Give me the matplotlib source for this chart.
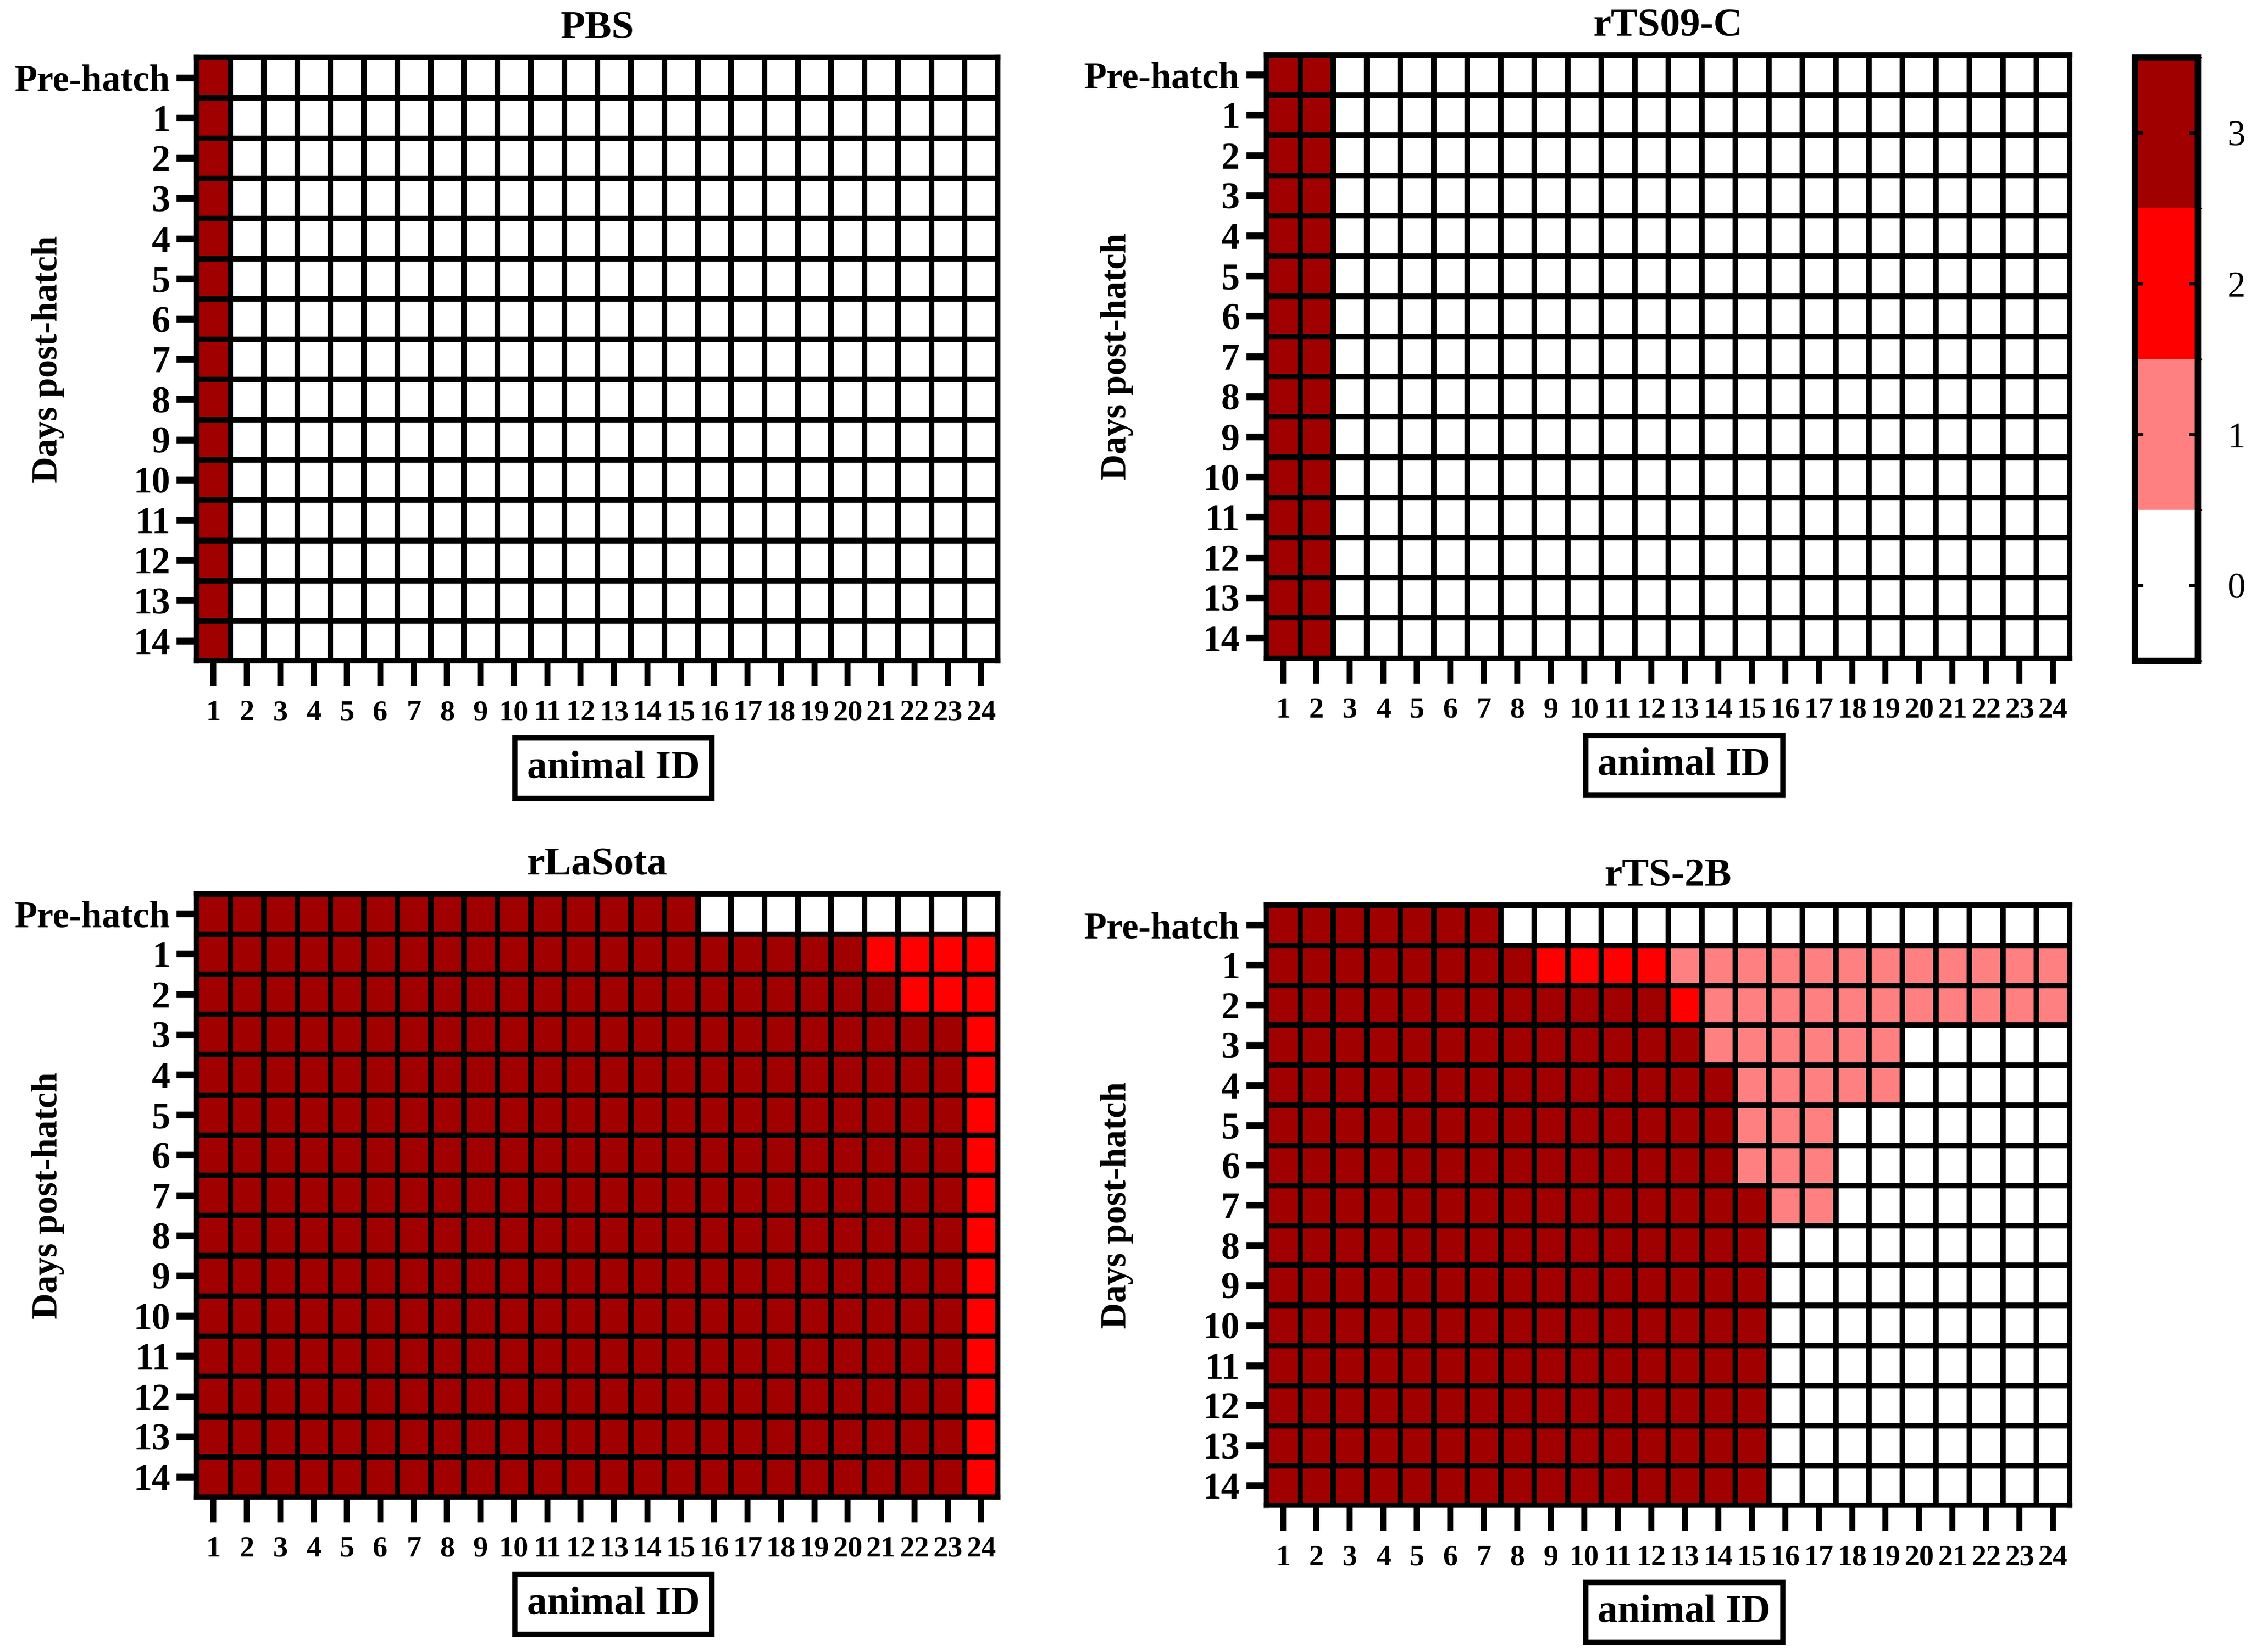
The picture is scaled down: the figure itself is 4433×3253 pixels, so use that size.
import numpy as np
import matplotlib
matplotlib.use("Agg")
import matplotlib.pyplot as plt
from matplotlib.colors import ListedColormap, BoundaryNorm

plt.rcParams["font.family"] = ["Liberation Serif", "DejaVu Serif"]
plt.rcParams["font.weight"] = "bold"

# --------------------------
# data: clinical score per day (rows) and animal (columns)
# --------------------------
days = ["Pre-hatch"] + [str(d) for d in range(1, 15)]
animal_ids = [str(i) for i in range(1, 25)]
score_levels = [0, 1, 2, 3]

pbs = [
    "300000000000000000000000",
    "300000000000000000000000",
    "300000000000000000000000",
    "300000000000000000000000",
    "300000000000000000000000",
    "300000000000000000000000",
    "300000000000000000000000",
    "300000000000000000000000",
    "300000000000000000000000",
    "300000000000000000000000",
    "300000000000000000000000",
    "300000000000000000000000",
    "300000000000000000000000",
    "300000000000000000000000",
    "300000000000000000000000",
]

rts09c = [
    "330000000000000000000000",
    "330000000000000000000000",
    "330000000000000000000000",
    "330000000000000000000000",
    "330000000000000000000000",
    "330000000000000000000000",
    "330000000000000000000000",
    "330000000000000000000000",
    "330000000000000000000000",
    "330000000000000000000000",
    "330000000000000000000000",
    "330000000000000000000000",
    "330000000000000000000000",
    "330000000000000000000000",
    "330000000000000000000000",
]

rlasota = [
    "333333333333333000000000",
    "333333333333333333332222",
    "333333333333333333333222",
    "333333333333333333333332",
    "333333333333333333333332",
    "333333333333333333333332",
    "333333333333333333333332",
    "333333333333333333333332",
    "333333333333333333333332",
    "333333333333333333333332",
    "333333333333333333333332",
    "333333333333333333333332",
    "333333333333333333333332",
    "333333333333333333333332",
    "333333333333333333333332",
]

rts2b = [
    "333333300000000000000000",
    "333333332222111111111111",
    "333333333333211111111111",
    "333333333333311111100000",
    "333333333333331111100000",
    "333333333333331110000000",
    "333333333333331110000000",
    "333333333333333110000000",
    "333333333333333000000000",
    "333333333333333000000000",
    "333333333333333000000000",
    "333333333333333000000000",
    "333333333333333000000000",
    "333333333333333000000000",
    "333333333333333000000000",
]

panel_titles = ["PBS", "rTS09-C", "rLaSota", "rTS-2B"]
panel_data = [pbs, rts09c, rlasota, rts2b]

# --------------------------
# colours
# --------------------------
cmap = ListedColormap(["#ffffff", "#ff8080", "#ff0000", "#a00000"])
norm = BoundaryNorm([-0.5, 0.5, 1.5, 2.5, 3.5], cmap.N)

# --------------------------
# figure
# --------------------------
fig = plt.figure(figsize=(4433 / 300, 3253 / 300), dpi=300)

positions = [
    [0.0874, 0.600, 0.3559, 0.3652],
    [0.5625, 0.6017, 0.3570, 0.3652],
    [0.0874, 0.0939, 0.3559, 0.3652],
    [0.5625, 0.0887, 0.3570, 0.3635],
]

mesh = None
for pos, title, rows in zip(positions, panel_titles, panel_data):
    ax = fig.add_axes(pos)
    z = np.array([[int(c) for c in r] for r in rows])
    x_edges = np.arange(len(animal_ids) + 1) + 0.5
    y_edges = np.arange(len(days) + 1) - 0.5
    mesh = ax.pcolormesh(x_edges, y_edges, z, cmap=cmap, norm=norm,
                         edgecolors="black", linewidth=2.2)
    ax.set_xlim(0.5, 24.5)
    ax.set_ylim(14.5, -0.5)

    ax.set_xticks(range(1, 25))
    ax.set_xticklabels(animal_ids, fontsize=14, fontweight="bold")
    ax.set_yticks(range(len(days)))
    ax.set_yticklabels(days, fontsize=17.5, fontweight="bold")
    ax.tick_params(axis="x", direction="out", length=12, width=2.8, pad=6.5)
    ax.tick_params(axis="y", direction="out", length=9.5, width=3.2, pad=3)
    for s in ax.spines.values():
        s.set_linewidth(2.5)

    ax.set_title(title, fontsize=19, fontweight="bold", pad=9)
    ax.set_ylabel("Days post-hatch", fontsize=17, fontweight="bold")
    ax.yaxis.set_label_coords(-0.165, 0.5)
    ax.set_xlabel("animal ID", fontsize=19, fontweight="bold",
                  bbox=dict(boxstyle="square,pad=0.3", facecolor="white",
                            edgecolor="black", linewidth=2.5))
    ax.xaxis.set_label_coords(0.52, -0.148)

# colour scale
cax = fig.add_axes([0.9483, 0.600, 0.0281, 0.3652])
cb = fig.colorbar(mesh, cax=cax, boundaries=[-0.5, 0.5, 1.5, 2.5, 3.5],
                  ticks=score_levels)
cb.outline.set_linewidth(3)
cb.ax.set_yticklabels([str(v) for v in score_levels], fontsize=17,
                      fontweight="normal")
cb.ax.tick_params(direction="in", length=4, width=1.5, left=True, right=True,
                  pad=14)

fig.savefig("out.png", dpi=300)
